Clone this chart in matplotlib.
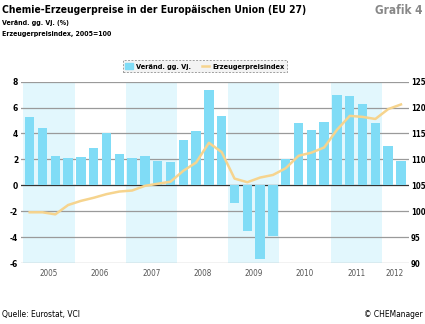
import numpy as np
import matplotlib.pyplot as plt
from matplotlib.patches import Patch
from matplotlib.lines import Line2D

# quarterly data 2005 Q1 .. 2012 Q2
change = [5.3, 4.4, 2.3, 2.1,
          2.2, 2.9, 4.0, 2.4,
          2.1, 2.3, 1.9, 1.8,
          3.5, 4.2, 7.35, 5.35,
          -1.4, -3.5, -5.7, -3.9,
          2.0, 4.8, 4.3, 4.9,
          7.0, 6.9, 6.25, 4.8,
          3.0, 1.9]
index = [99.8, 99.8, 99.4, 101.2,
         102.0, 102.6, 103.3, 103.8,
         104.0, 104.9, 105.3, 105.7,
         107.8, 109.4, 113.2, 111.4,
         106.3, 105.6, 106.5, 107.0,
         108.3, 110.7, 111.3, 112.3,
         115.7, 118.4, 118.2, 117.8,
         119.7, 120.6]
years = ['2005', '2006', '2007', '2008', '2009', '2010', '2011', '2012']
left_ticks = [-6, -4, -2, 0, 2, 4, 6, 8]
right_ticks = [90, 95, 100, 105, 110, 115, 120, 125]

bar_col = '#80dcf6'
band_col = '#e2f7fd'
line_col = '#f6d48e'
plt.rcParams['font.family'] = ['DejaVu Sans']
plt.rcParams['font.stretch'] = 'condensed'

fig = plt.figure(figsize=(4.25, 3.24), dpi=100)
ax = fig.add_axes([0.0494, 0.188, 0.913, 0.560])

x = np.arange(len(change))
for start in [0, 8, 16, 24]:
    ax.axvspan(start - 0.5, start + 3.5, color=band_col, lw=0, zorder=0)
for t in left_ticks:
    ax.axhline(t, color='#333333' if t == 0 else '#9a9a9a', lw=0.9, zorder=1)
ax.bar(x, change, width=0.73, color=bar_col, zorder=2)

ax2 = ax.twinx()
ax2.plot(x, index, color=line_col, lw=1.8, zorder=3)
ax2.set_ylim(90, 125)
ax.set_ylim(-6, 8)
ax.set_xlim(-0.68, 29.63)

ax.set_yticks(left_ticks)
ax.set_yticklabels([str(t) for t in left_ticks], fontweight='bold', fontsize=6)
ax2.set_yticks(right_ticks)
ax2.set_yticklabels([str(t) for t in right_ticks], fontweight='bold', fontsize=5.6)
ax.set_xticks([1.5 + 4 * i for i in range(7)] + [28.5])
ax.set_xticklabels(years, fontsize=5.8, color='#555555')
for a in (ax, ax2):
    a.tick_params(length=0, pad=2)
    for s in a.spines.values():
        s.set_visible(False)
ax2.tick_params(axis='y', pad=1.2)
ax.tick_params(axis='x', pad=4)

handles = [Patch(color=bar_col), Line2D([], [], color=line_col, lw=1.8)]
leg = fig.legend(handles, ['Veränd. gg. Vj.', 'Erzeugerpreisindex'], loc='center',
                 bbox_to_anchor=(0.482, 0.796), ncol=2, frameon=True, fancybox=False,
                 prop={'weight': 'bold', 'size': 5.3, 'stretch': 'condensed'},
                 handlelength=1.0, handleheight=1.0,
                 handletextpad=0.4, columnspacing=1.5, borderpad=0.35)
fr = leg.get_frame()
fr.set_facecolor('#f0f0f0')
fr.set_edgecolor('#888888')
fr.set_linestyle((0, (2, 1.5)))
fr.set_linewidth(0.7)

fig.text(0.005, 0.968, 'Chemie-Erzeugerpreise in der Europäischen Union (EU 27)',
         fontsize=7.4, fontweight='bold', va='center')
fig.text(0.995, 0.968, 'Grafik 4', fontsize=8.5, fontweight='bold', color='#888888',
         va='center', ha='right')
fig.text(0.005, 0.928, 'Veränd. gg. Vj. (%)', fontsize=5, fontweight='bold', va='center')
fig.text(0.005, 0.895, 'Erzeugerpreisindex, 2005=100', fontsize=5, fontweight='bold', va='center')
fig.text(0.005, 0.03, 'Quelle: Eurostat, VCI', fontsize=6, va='center')
fig.text(0.995, 0.03, '© CHEManager', fontsize=6, va='center', ha='right')

fig.savefig('out.png', dpi=100)
